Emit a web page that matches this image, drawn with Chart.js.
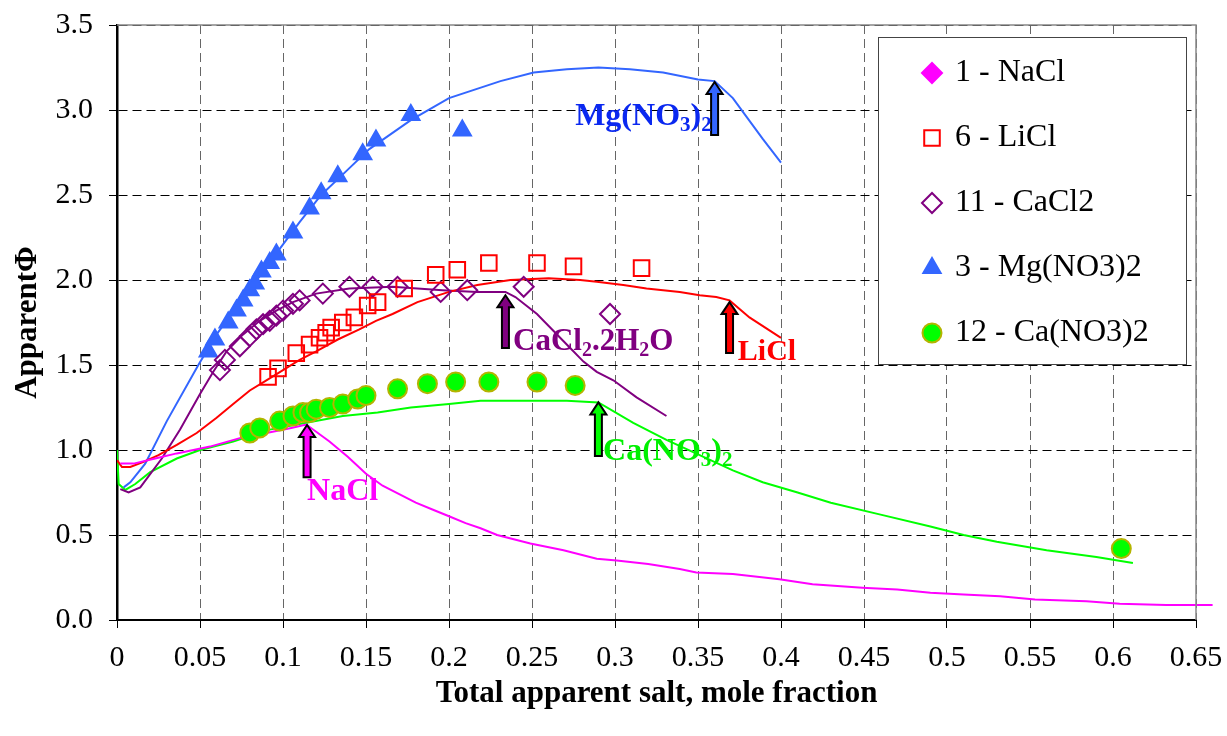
<!DOCTYPE html>
<html>
<head>
<meta charset="utf-8">
<script src="https://cdn.jsdelivr.net/npm/chart.js@4.4.1/dist/chart.umd.min.js"></script>
<style>
  html, body { margin: 0; padding: 0; background: #fff; }
  #wrap { width: 1227px; height: 736px; }
</style>
</head>
<body>
<div id="wrap"><canvas id="chart-phi" width="1227" height="736"></canvas></div>
<script>
// x tick labels and y tick labels
var xTicks = [0, 0.05, 0.1, 0.15, 0.2, 0.25, 0.3, 0.35, 0.4, 0.45, 0.5, 0.55, 0.6, 0.65];
var yTicks = [0, 0.5, 1.0, 1.5, 2.0, 2.5, 3.0, 3.5];

// model curves [x, y]
var naclCurve = [[0.002,0.92],[0.01,0.92],[0.023,0.95],[0.036,0.98],[0.056,1.02],[0.074,1.07],[0.09,1.1],[0.105,1.13],[0.114,1.15],
  [0.128,1.05],[0.139,0.96],[0.15,0.86],[0.16,0.79],[0.17,0.74],[0.18,0.69],[0.19,0.65],[0.2,0.61],[0.21,0.57],[0.219,0.54],
  [0.229,0.5],[0.249,0.45],[0.269,0.41],[0.289,0.36],[0.301,0.35],[0.32,0.33],[0.339,0.3],[0.349,0.28],[0.371,0.27],[0.399,0.24],
  [0.419,0.21],[0.449,0.19],[0.47,0.18],[0.49,0.16],[0.51,0.15],[0.532,0.14],[0.553,0.12],[0.584,0.11],[0.604,0.095],[0.632,0.088],[0.66,0.088]];
var liclCurve = [[0,0.94],[0.003,0.9],[0.008,0.9],[0.016,0.93],[0.025,0.97],[0.036,1.03],[0.048,1.1],[0.06,1.19],[0.07,1.27],[0.08,1.35],
  [0.09,1.41],[0.1,1.47],[0.11,1.53],[0.12,1.58],[0.133,1.65],[0.146,1.71],[0.156,1.76],[0.166,1.8],[0.181,1.87],[0.2,1.93],[0.217,1.97],
  [0.237,2.0],[0.26,2.01],[0.279,2.0],[0.289,1.99],[0.305,1.97],[0.319,1.95],[0.339,1.93],[0.351,1.91],[0.361,1.9],[0.369,1.88],[0.381,1.78],[0.4,1.66]];
var cacl2Curve = [[0.002,0.77],[0.007,0.75],[0.014,0.78],[0.027,0.95],[0.038,1.12],[0.05,1.33],[0.058,1.46],[0.066,1.58],[0.076,1.68],
  [0.086,1.76],[0.096,1.82],[0.106,1.87],[0.12,1.92],[0.14,1.95],[0.166,1.96],[0.196,1.94],[0.217,1.93],[0.234,1.93],[0.24,1.9],
  [0.253,1.8],[0.263,1.7],[0.273,1.6],[0.281,1.52],[0.289,1.46],[0.299,1.41],[0.313,1.31],[0.331,1.2]];
var mgno3Curve = [[0.004,0.78],[0.008,0.81],[0.017,0.92],[0.03,1.17],[0.049,1.5],[0.06,1.68],[0.072,1.84],[0.085,2.01],[0.097,2.17],
  [0.11,2.34],[0.123,2.5],[0.137,2.63],[0.152,2.77],[0.177,2.94],[0.2,3.07],[0.231,3.17],[0.251,3.22],[0.271,3.24],[0.29,3.25],
  [0.309,3.24],[0.329,3.22],[0.35,3.18],[0.36,3.17],[0.371,3.07],[0.389,2.83],[0.4,2.69]];
var cano3Curve = [[0,1.0],[0.001,0.8],[0.005,0.765],[0.011,0.8],[0.02,0.87],[0.036,0.95],[0.05,1.0],[0.07,1.05],[0.092,1.12],[0.114,1.16],
  [0.136,1.2],[0.157,1.22],[0.177,1.25],[0.2,1.27],[0.219,1.29],[0.25,1.29],[0.271,1.29],[0.29,1.28],[0.311,1.16],[0.331,1.06],
  [0.351,0.97],[0.371,0.88],[0.389,0.81],[0.41,0.75],[0.43,0.69],[0.46,0.62],[0.49,0.55],[0.51,0.5],[0.53,0.46],[0.56,0.41],[0.59,0.37],[0.612,0.335]];

// measured points [x, y]
var naclPoints = [];
var liclPoints = [[0.091,1.43],[0.097,1.48],[0.108,1.57],[0.116,1.62],[0.122,1.66],[0.126,1.69],[0.129,1.72],[0.136,1.75],[0.143,1.78],
  [0.151,1.85],[0.157,1.87],[0.173,1.95],[0.192,2.03],[0.205,2.06],[0.224,2.1],[0.253,2.1],[0.275,2.08],[0.316,2.07]];
var cacl2Points = [[0.062,1.47],[0.065,1.53],[0.074,1.61],[0.08,1.67],[0.084,1.71],[0.088,1.74],[0.092,1.76],[0.096,1.79],[0.1,1.82],
  [0.106,1.86],[0.11,1.88],[0.124,1.92],[0.14,1.96],[0.154,1.96],[0.169,1.96],[0.195,1.93],[0.211,1.94],[0.245,1.96],[0.297,1.8]];
var mgno3Points = [[0.055,1.58],[0.059,1.65],[0.067,1.75],[0.072,1.82],[0.076,1.88],[0.08,1.94],[0.083,1.98],[0.087,2.05],[0.092,2.1],
  [0.096,2.15],[0.106,2.28],[0.116,2.42],[0.123,2.51],[0.133,2.61],[0.148,2.74],[0.156,2.82],[0.177,2.97],[0.208,2.88]];
var cano3Points = [[0.08,1.1],[0.086,1.13],[0.098,1.17],[0.106,1.2],[0.112,1.22],[0.116,1.22],[0.12,1.24],[0.128,1.25],[0.136,1.27],
  [0.145,1.3],[0.15,1.32],[0.169,1.36],[0.187,1.39],[0.204,1.4],[0.224,1.4],[0.253,1.4],[0.276,1.38],[0.605,0.42]];

var legendLabels = ['1 - NaCl', '6 - LiCl', '11 - CaCl2', '3 - Mg(NO3)2', '12 - Ca(NO3)2'];

function xy(arr) {
    return arr.map(function (p) { return {x: p[0], y: p[1]}; });
}

function curve(data, color) {
    return {
        data: xy(data), showLine: true, borderColor: color, borderWidth: 2,
        pointRadius: 0, tension: 0, fill: false, order: 2, inLegend: false
    };
}

function marks(label, data, style, radius, fill, stroke) {
    return {
        label: label, data: xy(data), showLine: false, pointStyle: style,
        pointRadius: radius, pointBackgroundColor: fill, pointBorderColor: stroke,
        pointBorderWidth: 2, backgroundColor: fill, borderColor: stroke, order: 1, inLegend: true
    };
}

// labels with arrows
var callouts = [
    {x: 0.36, tip: 3.165, tail: 2.853, tx: 0.276, ty: 2.953, size: 32, color: '#0A28F0', fill: '#3366FF',
        parts: [['Mg(NO', 0], ['3', 1], [')', 0], ['2', 1]]},
    {x: 0.234, tip: 1.91, tail: 1.6, tx: 0.2386, ty: 1.63, size: 31, color: '#800080', fill: '#800080',
        parts: [['CaCl', 0], ['2', 1], ['.2H', 0], ['2', 1], ['O', 0]]},
    {x: 0.369, tip: 1.87, tail: 1.57, tx: 0.374, ty: 1.571, size: 30, color: '#FF0000', fill: '#FF0000',
        parts: [['LiCl', 0]]},
    {x: 0.29, tip: 1.28, tail: 0.965, tx: 0.2928, ty: 0.985, size: 32, color: '#00F000', fill: '#00FF00',
        parts: [['Ca(NO', 0], ['3', 1], [')', 0], ['2', 1]]},
    {x: 0.1145, tip: 1.147, tail: 0.84, tx: 0.1145, ty: 0.747, size: 32, color: '#FF00FF', fill: '#FF00FF',
        parts: [['NaCl', 0]]}
];

var extrasPlugin = {
    id: 'extras',
    afterDatasetsDraw: function (chart) {
        var ctx = chart.ctx;
        var xs = chart.scales.x, ys = chart.scales.y;
        var area = chart.chartArea;
        ctx.save();

        // top and right frame
        ctx.strokeStyle = '#888';
        ctx.lineWidth = 1.5;
        ctx.beginPath();
        ctx.moveTo(area.left, area.top);
        ctx.lineTo(area.right, area.top);
        ctx.lineTo(area.right, area.bottom);
        ctx.stroke();

        // arrows and labels
        callouts.forEach(function (c) {
            var px = xs.getPixelForValue(c.x);
            var pTip = ys.getPixelForValue(c.tip);
            var pTail = ys.getPixelForValue(c.tail);
            var hw = 8, hh = 12, sw = 3.5;
            ctx.beginPath();
            ctx.moveTo(px, pTip);
            ctx.lineTo(px + hw, pTip + hh);
            ctx.lineTo(px + sw, pTip + hh);
            ctx.lineTo(px + sw, pTail);
            ctx.lineTo(px - sw, pTail);
            ctx.lineTo(px - sw, pTip + hh);
            ctx.lineTo(px - hw, pTip + hh);
            ctx.closePath();
            ctx.fillStyle = c.fill;
            ctx.fill();
            ctx.strokeStyle = '#000';
            ctx.lineWidth = 2;
            ctx.stroke();

            var tx = xs.getPixelForValue(c.tx);
            var ty = ys.getPixelForValue(c.ty);
            var sub = Math.round(c.size * 0.65);
            ctx.fillStyle = c.color;
            ctx.textAlign = 'left';
            ctx.textBaseline = 'alphabetic';
            c.parts.forEach(function (p) {
                if (p[1]) {
                    ctx.font = 'bold ' + sub + 'px "Liberation Serif"';
                    ctx.fillText(p[0], tx, ty + 7 + 6);
                } else {
                    ctx.font = 'bold ' + c.size + 'px "Liberation Serif"';
                    ctx.fillText(p[0], tx, ty + 7);
                }
                tx += ctx.measureText(p[0]).width;
            });
        });

        // legend box
        var bx = 878, by = 37, bw = 308, bh = 327;
        ctx.fillStyle = '#fff';
        ctx.fillRect(bx, by, bw, bh);
        ctx.strokeStyle = '#444';
        ctx.lineWidth = 1;
        ctx.strokeRect(bx + 0.5, by + 0.5, bw, bh);

        var items = chart.data.datasets.filter(function (d) { return d.inLegend; });
        items.forEach(function (d, i) {
            var cy = 73 + i * 65;
            ctx.fillStyle = d.pointBackgroundColor;
            ctx.strokeStyle = d.pointBorderColor;
            ctx.lineWidth = 2;
            Chart.helpers.drawPoint(ctx, {pointStyle: d.pointStyle, radius: d.pointRadius, rotation: 0, borderWidth: 2}, 932, cy);
            ctx.fillStyle = '#000';
            ctx.font = '32px "Liberation Serif"';
            ctx.textAlign = 'left';
            ctx.textBaseline = 'middle';
            ctx.fillText(d.label, 955, cy);
        });
        ctx.restore();
    }
};

var ctx = document.getElementById('chart-phi').getContext('2d');
var tickFont = {family: '"Liberation Serif"', size: 30};
var titleFont = {family: '"Liberation Serif"', size: 31, weight: 'bold'};

var phiChart = new Chart(ctx, {
    type: 'scatter',
    data: {
        datasets: [
            marks(legendLabels[0], naclPoints, 'rectRot', 10, '#FF00FF', '#FF00FF'),
            marks(legendLabels[1], liclPoints, 'rect', 11, 'rgba(0,0,0,0)', '#FF0000'),
            marks(legendLabels[2], cacl2Points, 'rectRot', 10, 'rgba(0,0,0,0)', '#800080'),
            marks(legendLabels[3], mgno3Points, 'triangle', 10, '#3366FF', '#3366FF'),
            marks(legendLabels[4], cano3Points, 'circle', 9.5, '#00FF00', '#B4B400'),
            Object.assign(curve(naclCurve, '#FF00FF'), {clip: 20}),
            curve(liclCurve, '#FF0000'),
            curve(cacl2Curve, '#800080'),
            curve(mgno3Curve, '#3366FF'),
            curve(cano3Curve, '#00FF00')
        ]
    },
    options: {
        responsive: false,
        maintainAspectRatio: false,
        animation: false,
        events: [],
        layout: {padding: {left: 0, right: 31, top: 25, bottom: 0}},
        plugins: {
            legend: {display: false},
            tooltip: {enabled: false}
        },
        scales: {
            x: {
                type: 'linear', min: 0, max: 0.65,
                afterBuildTicks: function (axis) {
                    axis.ticks = xTicks.map(function (v) { return {value: v}; });
                },
                afterFit: function (axis) {
                    axis.height = 116;
                    axis.paddingLeft = 0;
                    axis.paddingRight = 0;
                },
                ticks: {
                    font: tickFont, color: '#000', padding: 12, maxRotation: 0, autoSkip: false,
                    callback: function (v) { return String(parseFloat(Number(v).toFixed(2))); }
                },
                grid: {color: '#666', lineWidth: 1, tickLength: 8, tickColor: '#000', tickWidth: 1},
                border: {display: true, color: '#000', width: 2, dash: [9, 5]},
                title: {display: true, text: 'Total apparent salt, mole fraction', font: titleFont, color: '#000', padding: {top: 0, bottom: 23}}
            },
            y: {
                type: 'linear', min: 0, max: 3.5,
                afterBuildTicks: function (axis) {
                    axis.ticks = yTicks.map(function (v) { return {value: v}; });
                },
                afterFit: function (axis) {
                    axis.width = 117;
                    axis.paddingTop = 0;
                    axis.paddingBottom = 0;
                },
                ticks: {
                    font: tickFont, color: '#000', padding: 16,
                    callback: function (v) { return Number(v).toFixed(1); }
                },
                grid: {color: '#000', lineWidth: 1, tickLength: 8, tickColor: '#000', tickWidth: 1},
                border: {display: true, color: '#000', width: 2.5, dash: [9, 5]},
                title: {display: true, text: 'ApparentΦ', font: titleFont, color: '#000', padding: {top: 9, bottom: 0}}
            }
        }
    },
    plugins: [extrasPlugin]
});
</script>
</body>
</html>
